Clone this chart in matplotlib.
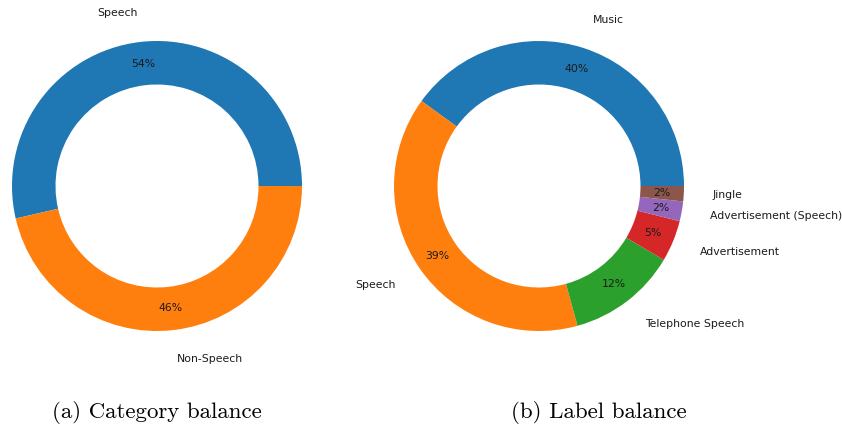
import matplotlib
matplotlib.use("Agg")
import matplotlib.pyplot as plt

# category balance
catLabels = ['Speech', 'Non-Speech']
catShares = [53.6, 46.4]

# label balance
lblLabels = ['Music', 'Speech', 'Telephone Speech', 'Advertisement',
             'Advertisement (Speech)', 'Jingle']
lblShares = [40.0, 39.2, 12.2, 4.6, 2.2, 1.7]

captions = ['(a) Category balance', '(b) Label balance']

W, H = 842, 429
fig = plt.figure(figsize=(W / 100, H / 100), dpi=100)


def donut(ax, shares, labels):
    ax.pie(shares, labels=labels, autopct='%1.0f%%', startangle=0,
           labeldistance=1.2, pctdistance=0.85,
           wedgeprops=dict(width=0.3, linewidth=0),
           textprops=dict(fontsize=7.8, color='#1a1a1a'))
    ax.set_xlim(-1, 1)
    ax.set_ylim(-1, 1)
    ax.set_aspect('equal')
    ax.axis('off')


# pie boxes in pixels: (left, top, size)
boxes = [(12, 41, 290), (394, 41, 290)]
data = [(catShares, catLabels), (lblShares, lblLabels)]
for (l, t, s), (shares, labels) in zip(boxes, data):
    ax = fig.add_axes([l / W, (H - t - s) / H, s / W, s / H])
    donut(ax, shares, labels)

fig.text(157 / W, 1 - 413 / H, captions[0], ha='center', va='center',
         fontsize=16.5, family='cmr10')
fig.text(599 / W, 1 - 413 / H, captions[1], ha='center', va='center',
         fontsize=16.5, family='cmr10')

fig.savefig('out.png', dpi=100)
